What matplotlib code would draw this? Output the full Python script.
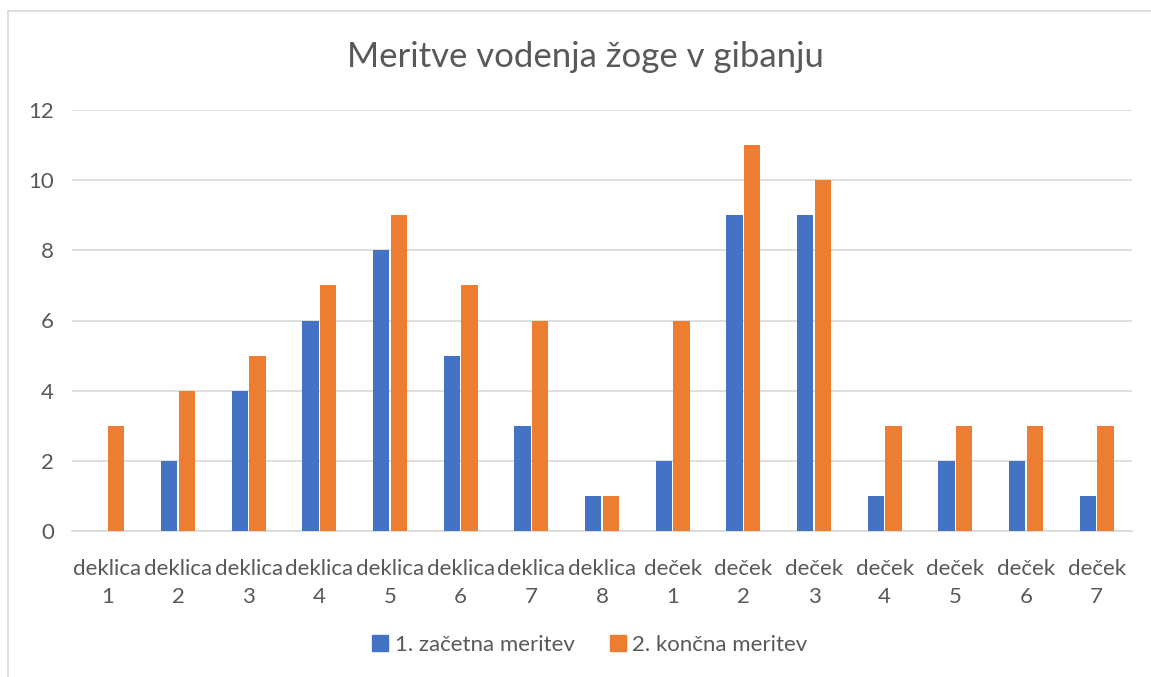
import numpy as np
import matplotlib.pyplot as plt
from matplotlib.patches import Patch
from matplotlib.lines import Line2D

plt.rcParams['font.family'] = ['Lato', 'DejaVu Sans']

categories = ['deklica\n1', 'deklica\n2', 'deklica\n3', 'deklica\n4', 'deklica\n5',
              'deklica\n6', 'deklica\n7', 'deklica\n8', 'deček\n1', 'deček\n2',
              'deček\n3', 'deček\n4', 'deček\n5', 'deček\n6', 'deček\n7']
zacetna = [0, 2, 4, 6, 8, 5, 3, 1, 2, 9, 9, 1, 2, 2, 1]
koncna = [3, 4, 5, 7, 9, 7, 6, 1, 6, 11, 10, 3, 3, 3, 3]

blue = '#4472C4'
orange = '#ED7D31'
grey = '#595959'

fig = plt.figure(figsize=(11.51, 6.77), dpi=100)
ax = fig.add_axes([72/1151, 1-531/677, (1132-72)/1151, (531-110)/677])

x = np.arange(len(categories))
w = 0.23
ax.bar(x - 0.125, zacetna, w, color=blue, label='1. začetna meritev', zorder=3)
ax.bar(x + 0.125, koncna, w, color=orange, label='2. končna meritev', zorder=3)

ax.set_xlim(-0.5, len(categories) - 0.5)
ax.set_ylim(0, 12)
ax.set_yticks(range(0, 13, 2))
ax.yaxis.grid(True, color='#D9D9D9', linewidth=1.2, zorder=0)
ax.set_xticks(x)
ax.set_xticklabels(categories, fontsize=16, color=grey, linespacing=1.5)
ax.tick_params(axis='y', labelsize=16, labelcolor=grey, length=0, pad=13)
ax.tick_params(axis='x', length=0, pad=20)
for s in ['top', 'right', 'left']:
    ax.spines[s].set_visible(False)
ax.spines['bottom'].set_color('#D9D9D9')
ax.spines['bottom'].set_linewidth(1.2)

fig.text(585/1151, 1-57/677, 'Meritve vodenja žoge v gibanju', ha='center', va='center',
         fontsize=25, color=grey)

handles = [Patch(color=blue), Patch(color=orange)]
fig.legend(handles, ['1. začetna meritev', '2. končna meritev'], loc='center',
           bbox_to_anchor=(590/1151, 1-645/677), ncol=2, frameon=False, fontsize=16,
           handlelength=0.7, handleheight=0.7, handletextpad=0.3,
           columnspacing=1.6, labelcolor=grey)

# chart border (light grey frame)
fig.add_artist(Line2D([8/1151, 8/1151], [0, 1-11/677], color='#D9D9D9', lw=1.2))
fig.add_artist(Line2D([8/1151, 1], [1-11/677, 1-11/677], color='#D9D9D9', lw=1.2))

fig.savefig('out.png', dpi=100)
